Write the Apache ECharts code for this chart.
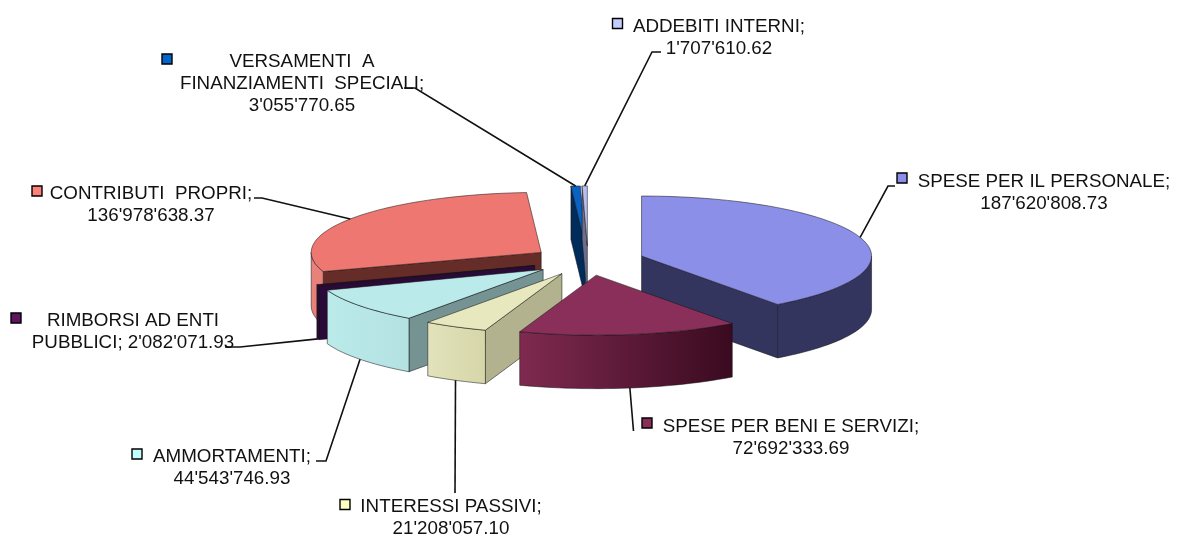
<!DOCTYPE html>
<html>
<head>
<meta charset="utf-8">
<title>Spese</title>
<script src="https://cdn.jsdelivr.net/npm/echarts@6/dist/echarts.min.js"></script>
<style>
  html, body { margin: 0; padding: 0; background: #fff; }
  #chart { width: 1177px; height: 536px; }
</style>
</head>
<body>
<div id="chart"></div>
<script>
// dati, in senso orario partendo dalle ore 12
const categories = [
  'SPESE PER IL PERSONALE',
  'SPESE PER BENI E SERVIZI',
  'INTERESSI PASSIVI',
  'AMMORTAMENTI',
  'RIMBORSI AD ENTI\nPUBBLICI',
  'CONTRIBUTI  PROPRI',
  'VERSAMENTI  A\nFINANZIAMENTI  SPECIALI',
  'ADDEBITI INTERNI'
]
const values = [187620808.73, 72692333.69, 21208057.10, 44543746.93, 2082071.93, 136978638.37, 3055770.65, 1707610.62]

// colori: piano superiore, parete esterna (da sx a dx), faccia di taglio, quadratino legenda
const topColors = ['#8B8FE8', '#8A2F5A', '#E8E8BE', '#BBEAEA', '#2A0A38', '#EF7772', '#0A62C4', '#B9BDF0']
const wallColors = [
  ['#33355F', '#33355F'], ['#7F2A50', '#3A0A20'], ['#E2E2BC', '#D6D6A8'], ['#BBEAEA', '#B4E2E2'],
  ['#2A0A38', '#2A0A38'], ['#E8817A', '#E8817A'], ['#002C5C', '#002C5C'], ['#6C6E8C', '#6C6E8C']
]
const faceColors = ['#33355F', '#3A0A20', '#B2B28E', '#769393', '#2A0A38', '#662C27', '#002C5C', '#6C6E8C']
const keyColors = ['#8B8FE8', '#8A2F5A', '#FFFFC4', '#C4FFFF', '#5E1460', '#FF7F7A', '#0066CC', '#C4CCFF']

// geometria della torta
const cx = 588, cy = 260.6, rx = 230, ry = 60, depth = 53.5, explode = 0.245

// posizione etichette: centro testo, prima riga, quadratino, gomito della linea guida
const labelCenterX = [1044, 791, 451, 232, 133, 151, 302, 719]
const labelTopY = [181.5, 426.5, 506.5, 456.5, 320.5, 193.5, 61.5, 26.5]
const keyX = [897, 642, 340, 132, 11, 32, 162, 612.5]
const keyY = [173, 418, 499.5, 449, 313, 186, 54, 18.5]
const leaderEnds = [
  [[895, 186], [888, 186]],
  [[633.5, 431]],
  [[455, 493]],
  [[316, 461], [326, 461]],
  [[225, 347], [240, 347]],
  [[254, 198], [262, 198]],
  [[404, 88], [415, 88]],
  [[661, 52], [652, 52]]
]

const total = values.reduce((a, b) => a + b, 0)
const toRad = d => d * Math.PI / 180

// angoli di ogni fetta
const slices = []
let acc = 0
values.forEach(v => {
  const start = acc
  acc += v / total * 360
  const mid = (start + acc) / 2
  slices.push({
    start,
    end: acc,
    mid,
    ax: cx + explode * rx * Math.sin(toRad(mid)),
    ay: cy - explode * ry * Math.cos(toRad(mid))
  })
})

const rimPoint = (s, deg) => [s.ax + rx * Math.sin(toRad(deg)), s.ay - ry * Math.cos(toRad(deg))]
const arcPoints = (s, from, to) => {
  const pts = []
  const steps = Math.max(2, Math.ceil((to - from) / 2))
  for (let i = 0; i <= steps; i++) pts.push(rimPoint(s, from + (to - from) * i / steps))
  return pts
}
const down = p => [p[0], p[1] + depth]

const polygon = (points, fill) => ({
  type: 'polygon',
  shape: { points },
  style: { fill, stroke: 'rgba(20,20,20,0.75)', lineWidth: 0.7 }
})

const renderSlice = (params, api) => {
  const i = api.value(0)
  const s = slices[i]
  const apex = [s.ax, s.ay]
  const children = []

  // faccia di taglio iniziale visibile solo a sinistra, finale solo a destra
  if (Math.sin(toRad(s.start)) < 0) {
    const r = rimPoint(s, s.start)
    children.push(polygon([apex, r, down(r), down(apex)], faceColors[i]))
  }
  if (Math.sin(toRad(s.end)) > 0.001) {
    const r = rimPoint(s, s.end)
    children.push(polygon([apex, r, down(r), down(apex)], faceColors[i]))
  }

  // parete esterna
  const from = Math.max(s.start, 90)
  const to = Math.min(s.end, 270)
  if (to > from) {
    const arc = arcPoints(s, from, to)
    const xs = arc.map(p => p[0])
    const x0 = Math.min(...xs)
    const x1 = Math.max(...xs)
    const fill = new echarts.graphic.LinearGradient(x0, 0, x1, 0, [
      { offset: 0, color: wallColors[i][0] },
      { offset: 1, color: wallColors[i][1] }
    ], true)
    children.push(polygon(arc.concat(arc.map(down).reverse()), fill))
  }

  // piano superiore
  children.push(polygon([apex].concat(arcPoints(s, s.start, s.end)), topColors[i]))
  return { type: 'group', children }
}

const fmt = v => {
  const parts = v.toFixed(2).split('.')
  return parts[0].replace(/\B(?=(\d{3})+(?!\d))/g, "'") + '.' + parts[1]
}

// punto in cui la linea guida tocca la fetta
const anchorOf = s => {
  const p = rimPoint(s, s.mid)
  return s.mid > 90 && s.mid < 270 ? down(p) : p
}

const graphics = []
categories.forEach((name, i) => {
  const sameLine = name.indexOf('PUBBLICI') >= 0
  const text = name + ';' + (sameLine ? ' ' : '\n') + fmt(values[i])
  graphics.push({
    type: 'polyline',
    z: 5,
    shape: { points: leaderEnds[i].concat([anchorOf(slices[i])]) },
    style: { fill: 'none', stroke: '#111', lineWidth: 1.6 }
  })
  graphics.push({
    type: 'rect',
    z: 6,
    shape: { x: keyX[i], y: keyY[i], width: 10, height: 10 },
    style: { fill: keyColors[i], stroke: '#000', lineWidth: 1.4 }
  })
  graphics.push({
    type: 'text',
    z: 6,
    style: {
      x: labelCenterX[i],
      y: labelTopY[i] - 11,
      text,
      fill: '#111',
      font: '18.8px "Liberation Sans", Arial, sans-serif',
      lineHeight: 22,
      align: 'center',
      verticalAlign: 'top'
    }
  })
})

// ordine di disegno: dal fondo verso chi guarda
const drawOrder = [5, 4, 3, 2, 6, 7, 0, 1]

const chart = echarts.init(document.getElementById('chart'))
chart.setOption({
  animation: false,
  backgroundColor: '#fff',
  graphic: graphics,
  series: [{
    type: 'custom',
    coordinateSystem: 'none',
    renderItem: renderSlice,
    clip: false,
    silent: true,
    data: drawOrder.map(i => [i])
  }]
})
</script>
</body>
</html>
